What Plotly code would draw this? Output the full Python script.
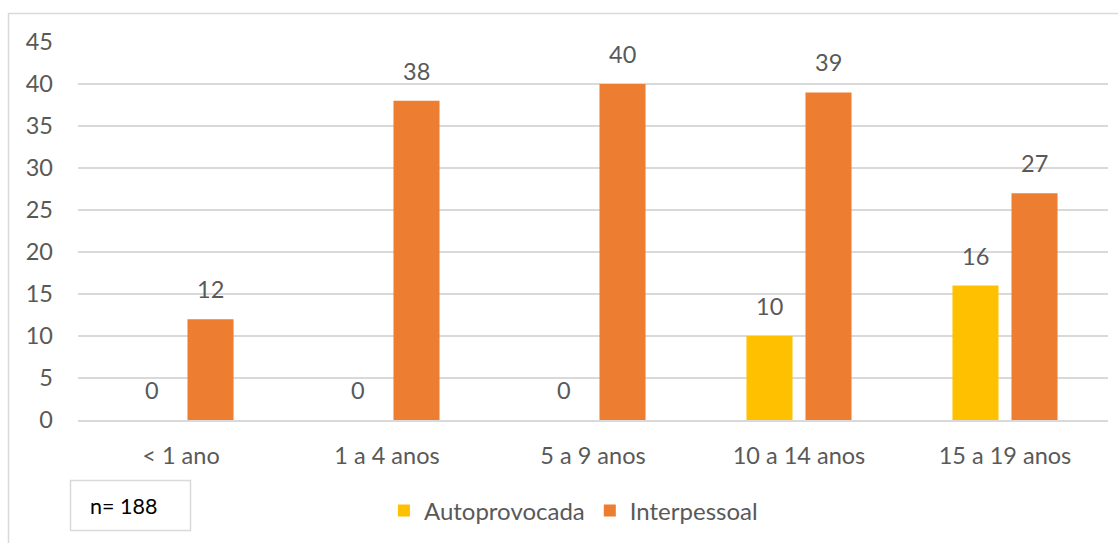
import plotly.graph_objects as go

categories = ["< 1 ano", "1 a 4 anos", "5 a 9 anos", "10 a 14 anos", "15 a 19 anos"]
autoprovocada = [0, 0, 0, 10, 16]
interpessoal = [12, 38, 40, 39, 27]
series_names = ["Autoprovocada", "Interpessoal"]
y_ticks = [0, 5, 10, 15, 20, 25, 30, 35, 40, 45]

C_AUTO = "#FFC000"
C_INTER = "#ED7D31"
TXT = "#595959"
GRID = "#D9D9D9"
FONT = "Lato, 'Open Sans', sans-serif"
FS = 23.5

W, H = 1118, 543
L, R, T, B = 78, 10, 42, 123
pw = W - L - R
ph = H - T - B

fig = go.Figure()
fig.add_trace(go.Bar(x=categories, y=autoprovocada, name=series_names[0],
                     marker=dict(color=C_AUTO, line=dict(width=0))))
fig.add_trace(go.Bar(x=categories, y=interpessoal, name=series_names[1],
                     marker=dict(color=C_INTER, line=dict(width=0))))

annotations = []
for vals, shift in ((autoprovocada, -29.5), (interpessoal, 29.5)):
    for c, v in zip(categories, vals):
        annotations.append(dict(x=c, y=v, xref="x", yref="y", text=str(v),
                                showarrow=False, xshift=shift, yshift=14,
                                yanchor="bottom",
                                font=dict(family=FONT, size=FS, color=TXT)))

# n= 188 box
annotations.append(dict(xref="paper", yref="paper",
                        x=(123 - L) / pw, y=(420 - 506) / ph,
                        xanchor="center", yanchor="middle",
                        text="n= 188", showarrow=False,
                        font=dict(family=FONT, size=21.5, color="#000000")))

shapes = [
    dict(type="rect", xref="paper", yref="paper", layer="below",
         x0=(70.5 - L) / pw, x1=(190.5 - L) / pw,
         y0=(420 - 530.5) / ph, y1=(420 - 480.5) / ph,
         line=dict(color=GRID, width=1.5), fillcolor="rgba(0,0,0,0)"),
    dict(type="line", xref="paper", yref="paper",
         x0=(8.5 - L) / pw, x1=(8.5 - L) / pw,
         y0=(420 - 13) / ph, y1=(420 - 560) / ph,
         line=dict(color=GRID, width=1.5)),
    dict(type="line", xref="paper", yref="paper",
         x0=(8.5 - L) / pw, x1=(1130 - L) / pw,
         y0=(420 - 13.5) / ph, y1=(420 - 13.5) / ph,
         line=dict(color=GRID, width=1.5)),
]

fig.update_layout(
    width=W, height=H,
    margin=dict(l=L, r=R, t=T, b=B, pad=0),
    paper_bgcolor="white", plot_bgcolor="white",
    barmode="group", bargap=0.427, bargroupgap=0.22,
    font=dict(family=FONT, size=FS, color=TXT),
    showlegend=True,
    legend=dict(orientation="h", x=0.481, xanchor="center",
                y=(420 - 511) / ph, yanchor="middle",
                font=dict(family=FONT, size=24, color=TXT),
                itemwidth=30, traceorder="normal"),
    annotations=annotations,
    shapes=shapes,
)
fig.update_xaxes(showgrid=False, showline=True, linecolor=GRID, linewidth=2,
                 ticks="", ticklabelstandoff=14,
                 tickfont=dict(family=FONT, size=FS, color=TXT))
fig.update_yaxes(range=[0, 45], tickvals=y_ticks, showgrid=True, gridcolor=GRID,
                 gridwidth=1.5, zeroline=False, showline=False, ticks="",
                 ticklabelstandoff=24,
                 tickfont=dict(family=FONT, size=FS, color=TXT))

fig.write_html("out.html")
